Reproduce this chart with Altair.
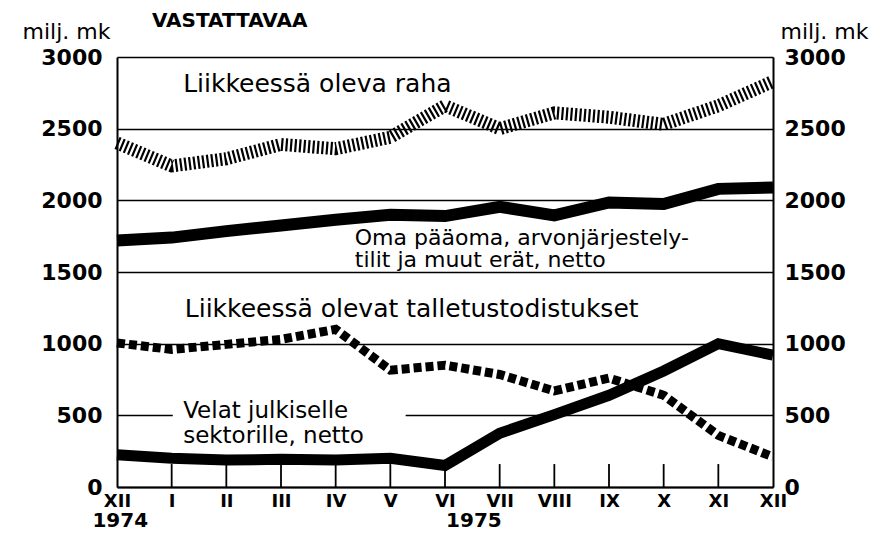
import altair as alt
import pandas as pd

# ---- data ----
months = list(range(13))
month_labels = ["XII", "I", "II", "III", "IV", "V", "VI", "VII", "VIII", "IX", "X", "XI", "XII"]
raha = [2400, 2240, 2290, 2390, 2360, 2440, 2660, 2500, 2610, 2580, 2530, 2660, 2830]
oma = [1720, 1740, 1785, 1825, 1865, 1900, 1890, 1955, 1895, 1985, 1975, 2080, 2090]
talletus = [1005, 960, 995, 1030, 1100, 815, 850, 785, 670, 760, 640, 360, 210]
velat = [225, 200, 188, 193, 188, 200, 150, 375, 505, 640, 810, 1000, 920]
y_ticks = [0, 500, 1000, 1500, 2000, 2500, 3000]
inner_ticks = list(range(1, 12))
years = ["1974", "1975"]

df = pd.DataFrame({"m": months, "raha": raha, "oma": oma,
                   "talletus": talletus, "velat": velat})
ticks_df = pd.DataFrame({"m": inner_ticks})

FONT = "DejaVu Sans"
xscale = alt.Scale(domain=[0, 12], nice=False, zero=False)
yscale = alt.Scale(domain=[0, 3000], nice=False, zero=True)

label_expr = "[" + ",".join("'" + s + "'" for s in month_labels) + "][datum.value]"

x_axis = alt.Axis(values=months, labelExpr=label_expr, ticks=False, grid=False,
                  domain=True, domainColor="black", domainWidth=2,
                  labelFont=FONT, labelFontWeight="bold", labelFontSize=18,
                  labelColor="black", labelPadding=5, labelFlush=False,
                  labelOverlap=False, labelBound=False, title=None)

left_axis = alt.Axis(values=y_ticks, format="d", orient="left", grid=True,
                     gridColor="black", gridWidth=1.5, gridOpacity=1, ticks=False,
                     domain=True, domainColor="black", domainWidth=2,
                     labelFont=FONT, labelFontWeight="bold", labelFontSize=22,
                     labelColor="black", labelPadding=15, labelOverlap=False,
                     title="milj. mk", titleAngle=0, titleAlign="right",
                     titleBaseline="alphabetic", titleX=-7, titleY=-19,
                     titleFont=FONT, titleFontSize=22, titleFontWeight="normal",
                     titleColor="black")

right_axis = alt.Axis(values=y_ticks, format="d", orient="right", grid=False,
                      ticks=False, domain=True, domainColor="black", domainWidth=2,
                      labelFont=FONT, labelFontWeight="bold", labelFontSize=22,
                      labelColor="black", labelPadding=11, labelOverlap=False,
                      title="milj. mk", titleAngle=0, titleAlign="left",
                      titleBaseline="alphabetic", titleX=7, titleY=-19,
                      titleFont=FONT, titleFontSize=22, titleFontWeight="normal",
                      titleColor="black")


def X(field=None, datum=None):
    if datum is not None:
        return alt.X(datum=datum, type="quantitative", scale=xscale, axis=x_axis)
    return alt.X(field, type="quantitative", scale=xscale, axis=x_axis)


def Y(field=None, datum=None, axis=left_axis):
    if datum is not None:
        return alt.Y(datum=datum, type="quantitative", scale=yscale, axis=axis)
    return alt.Y(field, type="quantitative", scale=yscale, axis=axis)


# inner tick marks pointing upward
ticks = alt.Chart(ticks_df).mark_rule(color="black", strokeWidth=1.8).encode(
    x=X("m"), y=Y(datum=0), y2=alt.Y2(datum=160))

# white patch that breaks the 500 gridline behind the label
patch = alt.Chart(pd.DataFrame({"k": [0]})).mark_rect(color="white").encode(
    x=X(datum=1.02), x2=alt.X2(datum=5.28), y=Y(datum=465), y2=alt.Y2(datum=535))


def label(text, x, y, size=24, align="left", weight="normal"):
    return alt.Chart(pd.DataFrame({"t": [text]})).mark_text(
        align=align, baseline="alphabetic", font=FONT, fontSize=size,
        fontWeight=weight, color="black").encode(
        x=X(datum=x), y=Y(datum=y), text="t:N")


texts = [
    label("VASTATTAVAA", 0.64, 3206, size=20, weight="bold"),
    label("Liikkeessä oleva raha", 1.21, 2756, size=25),
    label("Oma pääoma, arvonjärjestely-", 4.35, 1686, size=22),
    label("tilit ja muut erät, netto", 4.35, 1538, size=22),
    label("Liikkeessä olevat talletustodistukset", 1.24, 1186, size=25),
    label("Velat julkiselle", 1.21, 478, size=23),
    label("sektorille, netto", 1.21, 310, size=23),
    label(years[0], 0.06, -276, size=20, align="center", weight="bold"),
    label(years[1], 6.02, -276, size=20, align="left", weight="bold"),
]

oma_line = alt.Chart(df).mark_line(color="black", strokeWidth=12).encode(
    x=X("m"), y=Y("oma"))
velat_line = alt.Chart(df).mark_line(color="black", strokeWidth=11).encode(
    x=X("m"), y=Y("velat"))
talletus_line = alt.Chart(df).mark_line(color="black", strokeWidth=9,
                                        strokeDash=[8, 4]).encode(
    x=X("m"), y=Y("talletus"))

left_part = alt.layer(ticks, patch, *texts, oma_line, velat_line, talletus_line)

raha_line = alt.Chart(df).mark_line(color="black", strokeWidth=13,
                                    strokeDash=[2.2, 2.3]).encode(
    x=X("m"), y=Y("raha", axis=right_axis))

chart = alt.layer(left_part, raha_line).resolve_scale(y="independent").properties(
    width=656, height=430,
    autosize=alt.AutoSizeParams(type="none"),
    padding={"left": 109, "top": 49, "right": 111, "bottom": 45},
).configure_view(stroke=None)

chart.save("out.html", embed_options={"renderer": "svg", "actions": False})
